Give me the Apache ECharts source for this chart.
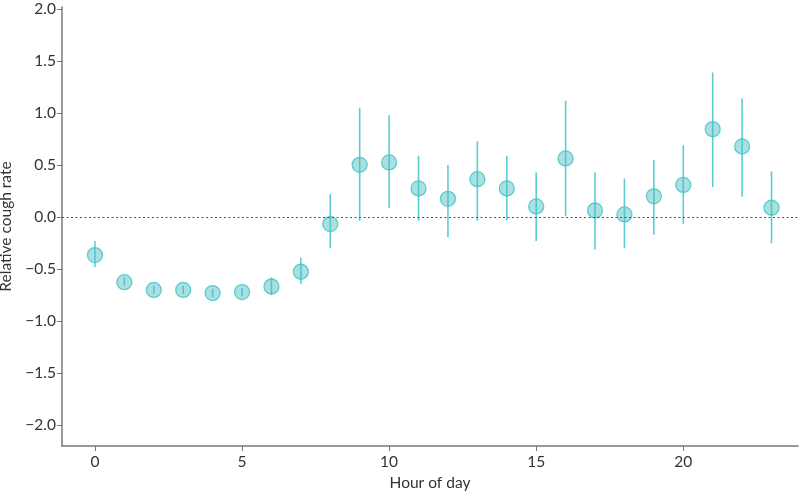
<!DOCTYPE html>
<html>
<head>
<meta charset="utf-8">
<script src="https://cdn.jsdelivr.net/npm/echarts@6/dist/echarts.min.js"></script>
<style>html,body{margin:0;padding:0;background:#fff}#c{width:799px;height:494px}</style>
</head>
<body>
<div id="c"></div>
<script>
const hours = [0,1,2,3,4,5,6,7,8,9,10,11,12,13,14,15,16,17,18,19,20,21,22,23];
const rate  = [-0.365,-0.625,-0.70,-0.70,-0.73,-0.72,-0.667,-0.525,-0.067,0.503,0.526,0.276,0.176,0.365,0.276,0.103,0.564,0.064,0.026,0.20,0.31,0.846,0.68,0.09];
const lower = [-0.48,-0.66,-0.74,-0.74,-0.77,-0.76,-0.75,-0.645,-0.30,-0.035,0.09,-0.035,-0.19,-0.035,-0.035,-0.23,0.01,-0.31,-0.30,-0.17,-0.064,0.29,0.195,-0.25];
const upper = [-0.23,-0.58,-0.66,-0.66,-0.69,-0.68,-0.58,-0.39,0.22,1.05,0.98,0.59,0.50,0.73,0.59,0.43,1.12,0.43,0.37,0.55,0.69,1.39,1.14,0.44];
const xTicks = [0,5,10,15,20];
const yTicks = [-2.0,-1.5,-1.0,-0.5,0.0,0.5,1.0,1.5,2.0];

const chart = echarts.init(document.getElementById('c'));
const font = 'Lato, "Noto Sans", sans-serif';
const axisCol = '#777';
const teal = '#3fc3c8';
const fmtY = v => v.toFixed(1).replace('-', '\u2212');

chart.setOption({
  animation: false,
  grid: {left: 62, right: 1, top: 7, bottom: 48, containLabel: false, outerBoundsMode: 'none'},
  xAxis: {
    type: 'value', min: -1.12, max: 23.9,
    name: 'Hour of day', nameLocation: 'middle', nameGap: 29,
    nameTextStyle: {fontFamily: font, fontSize: 15.5, color: '#333'},
    axisLine: {show: true, onZero: false, lineStyle: {color: axisCol, width: 1.5}},
    axisTick: {show: true, length: 5, lineStyle: {color: axisCol}, customValues: xTicks},
    axisLabel: {fontFamily: font, fontSize: 15.5, color: '#333', margin: 8, customValues: xTicks, formatter: v => String(v)},
    splitLine: {show: false}
  },
  yAxis: {
    type: 'value', min: -2.2, max: 2.02,
    name: 'Relative cough rate', nameLocation: 'middle', nameGap: 44,
    nameTextStyle: {fontFamily: font, fontSize: 15.5, color: '#333'},
    axisLine: {show: true, onZero: false, lineStyle: {color: axisCol, width: 1.5}},
    axisTick: {show: true, length: 5, lineStyle: {color: axisCol}, customValues: yTicks},
    axisLabel: {fontFamily: font, fontSize: 15.5, color: '#333', margin: 6, customValues: yTicks, formatter: fmtY},
    splitLine: {show: false}
  },
  series: [
    {
      type: 'custom',
      data: hours.map((h, i) => [h, lower[i], upper[i]]),
      encode: {x: 0, y: [1, 2]},
      z: 2,
      renderItem: (params, api) => {
        const a = api.coord([api.value(0), api.value(1)]);
        const b = api.coord([api.value(0), api.value(2)]);
        return {type: 'line', shape: {x1: a[0], y1: a[1], x2: b[0], y2: b[1]},
          style: {stroke: teal, lineWidth: 1.6, opacity: 0.85}};
      },
      markLine: {
        silent: true, symbol: 'none', label: {show: false},
        lineStyle: {color: '#555', type: [2, 2.5], width: 1.2},
        data: [{yAxis: 0}]
      }
    },
    {
      type: 'scatter',
      data: hours.map((h, i) => [h, rate[i]]),
      symbol: 'circle', symbolSize: 15, z: 3,
      itemStyle: {color: 'rgba(80,190,195,0.6)', borderColor: teal, borderWidth: 1.3}
    }
  ]
});
</script>
</body>
</html>
